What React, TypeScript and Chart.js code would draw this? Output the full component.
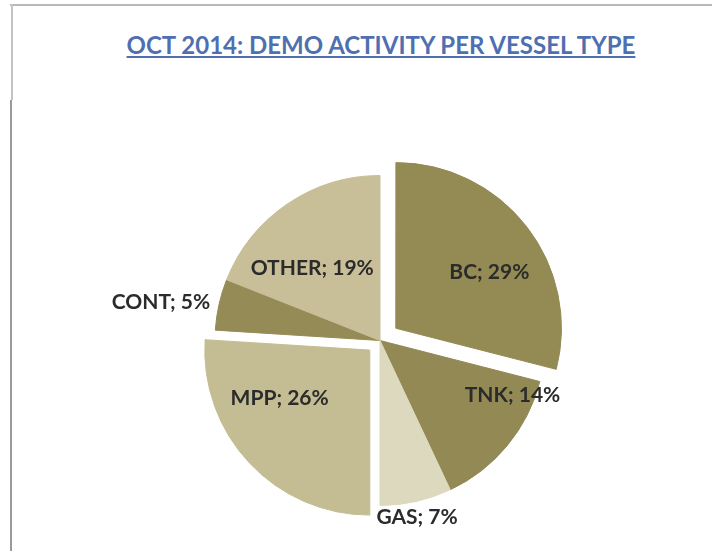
import React, { useEffect, useRef } from "react";
import { Chart, ArcElement, PieController } from "chart.js";

Chart.register(ArcElement, PieController);

const TITLE = "OCT 2014: DEMO ACTIVITY PER VESSEL TYPE";
const categories = ["BC", "TNK", "GAS", "MPP", "CONT", "OTHER"];
const shares = [29, 14, 7, 26, 5, 19];

const sliceColors = ["#948a53", "#928955", "#ddd9bf", "#c4bc93", "#958b57", "#c8bf99"];
// exploded distance in px (Chart.js translates arcs by offset / 4)
const explodeOffsets = [20, 0, 0, 14, 0, 0];
// label placement: inside slices (radius fraction + angular nudge in degrees) or outside
const labelPlacement = [
  { inside: true, r: 0.66, da: 7 },
  { inside: true, r: 0.87, da: -17 },
  { inside: false, r: 0, da: 0 },
  { inside: true, r: 0.62, da: 15 },
  { inside: false, r: 0, da: 0 },
  { inside: true, r: 0.6, da: -9 },
];

const labelPlugin = {
  id: "sliceLabels",
  afterDatasetsDraw(chart: any) {
    const ctx = chart.ctx as CanvasRenderingContext2D;
    const meta = chart.getDatasetMeta(0);
    ctx.save();
    ctx.font = "bold 21px Lato";
    ctx.fillStyle = "#2b2b2b";
    meta.data.forEach((arc: any, i: number) => {
      const p = arc.getProps(["x", "y", "startAngle", "endAngle", "outerRadius"], true);
      const mid = (p.startAngle + p.endAngle) / 2;
      const off = explodeOffsets[i];
      const cx = p.x + Math.cos(mid) * off;
      const cy = p.y + Math.sin(mid) * off;
      const text = `${categories[i]}; ${shares[i]}%`;
      const pl = labelPlacement[i];
      if (pl.inside) {
        const a = mid + (pl.da * Math.PI) / 180;
        const rr = pl.r * p.outerRadius;
        ctx.textAlign = "center";
        ctx.textBaseline = "middle";
        ctx.fillText(text, cx + Math.cos(a) * rr, cy + Math.sin(a) * rr);
      } else {
        const c = Math.cos(mid);
        const s = Math.sin(mid);
        const horizontal = Math.abs(c) > Math.abs(s);
        const rr = p.outerRadius + (horizontal ? 9 : 5);
        const px = cx + c * rr;
        const py = cy + s * rr;
        if (horizontal) {
          ctx.textAlign = c > 0 ? "left" : "right";
          ctx.textBaseline = "middle";
        } else {
          ctx.textAlign = "center";
          ctx.textBaseline = s > 0 ? "top" : "bottom";
        }
        ctx.fillText(text, px, py);
      }
    });
    ctx.restore();
  },
};

export default function App() {
  const canvasRef = useRef<HTMLCanvasElement | null>(null);

  useEffect(() => {
    if (!canvasRef.current) return;
    const chart = new Chart(canvasRef.current, {
      type: "pie",
      data: {
        labels: categories,
        datasets: [
          {
            data: shares,
            backgroundColor: sliceColors,
            borderColor: sliceColors,
            borderWidth: 1,
            offset: explodeOffsets.map((o) => o * 4),
          },
        ],
      },
      options: {
        animation: false,
        responsive: true,
        maintainAspectRatio: false,
        events: [],
        radius: 165,
        layout: { padding: { left: 48, top: 130, right: 0, bottom: 0 } },
        plugins: { legend: { display: false }, tooltip: { enabled: false } },
      } as any,
      plugins: [labelPlugin],
    });
    return () => chart.destroy();
  }, []);

  return (
    <div style={{ position: "absolute", left: 0, top: 0, width: 712, height: 551, background: "#ffffff", overflow: "hidden" }}>
      <div style={{ position: "absolute", left: 10, top: 4, width: 702, height: 2, background: "#b9b9b9" }} />
      <div style={{ position: "absolute", left: 11, top: 4, width: 2, height: 96, background: "#c4c4c4" }} />
      <div style={{ position: "absolute", left: 10, top: 100, width: 2, height: 451, background: "#9a9a9a" }} />
      <div
        style={{
          position: "absolute",
          left: 0,
          top: 30,
          width: 762,
          textAlign: "center",
          font: "bold 24px Lato",
          lineHeight: "30px",
          color: "#4f6fb0",
          textDecoration: "underline",
        }}
      >
        {TITLE}
      </div>
      <div style={{ position: "absolute", left: 0, top: 0, width: 712, height: 551 }}>
        <canvas ref={canvasRef} />
      </div>
    </div>
  );
}
